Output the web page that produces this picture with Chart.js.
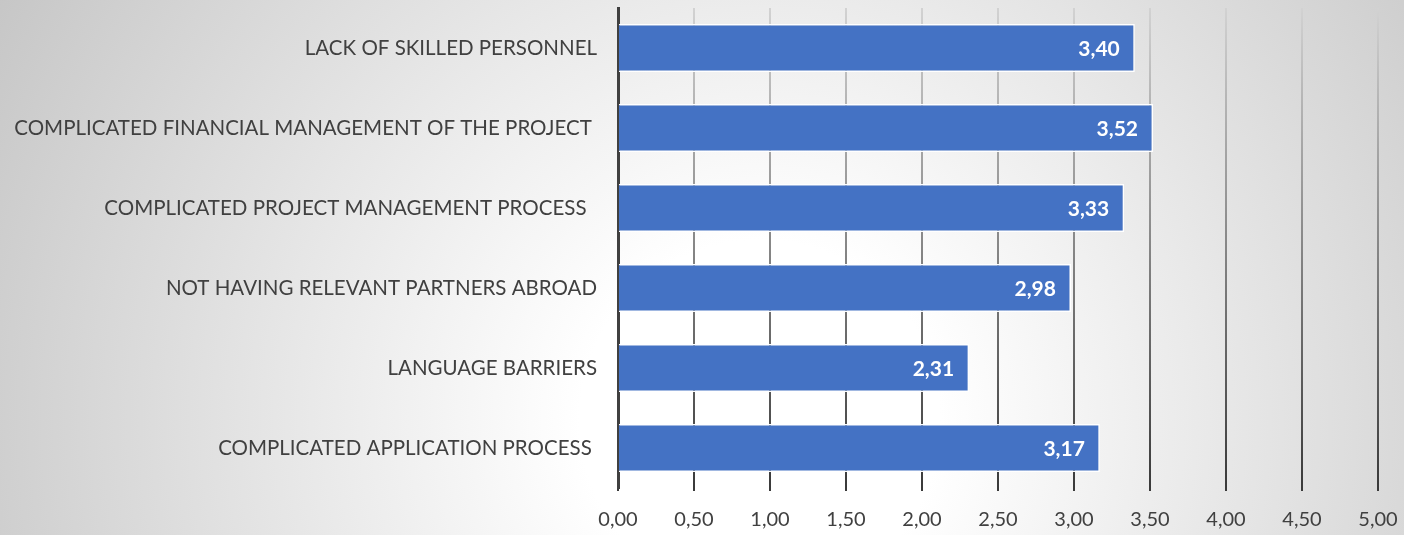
<!DOCTYPE html>
<html>
<head>
<meta charset="utf-8">
<script src="https://cdn.jsdelivr.net/npm/chart.js@4"></script>
<style>
  html, body { margin: 0; padding: 0; }
  #wrap { width: 1404px; height: 535px; }
</style>
</head>
<body>
<div id="wrap"><canvas id="barriersChart"></canvas></div>
<script>
// Data
let categories = [
    "LACK OF SKILLED PERSONNEL",
    "COMPLICATED FINANCIAL MANAGEMENT OF THE PROJECT ",
    "COMPLICATED PROJECT MANAGEMENT PROCESS  ",
    "NOT HAVING RELEVANT PARTNERS ABROAD",
    "LANGUAGE BARRIERS",
    "COMPLICATED APPLICATION PROCESS "
];
let scores = [3.40, 3.52, 3.33, 2.98, 2.31, 3.17];
let xMin = 0;
let xMax = 5;
let xStep = 0.5;

function comma(v) {
    return Number(v).toFixed(2).replace(".", ",");
}

// soft radial background like the original
const backgroundPlugin = {
    id: "bg",
    beforeDraw(chart) {
        let ctx = chart.ctx;
        let w = chart.width, h = chart.height;
        let g = ctx.createRadialGradient(760, 420, 0, 760, 420, 900);
        g.addColorStop(0, "#ffffff");
        g.addColorStop(0.2, "#ffffff");
        g.addColorStop(1, "#c4c4c4");
        ctx.save();
        ctx.fillStyle = g;
        ctx.fillRect(0, 0, w, h);
        ctx.restore();
    }
};

// white bold values at the end of each bar
const valueLabels = {
    id: "valueLabels",
    afterDatasetsDraw(chart) {
        let ctx = chart.ctx;
        let meta = chart.getDatasetMeta(0);
        ctx.save();
        ctx.font = "bold 21px Lato";
        ctx.fillStyle = "#ffffff";
        ctx.textAlign = "right";
        ctx.textBaseline = "middle";
        meta.data.forEach((bar, i) => {
            ctx.fillText(comma(scores[i]), bar.x - 15, bar.y + 1);
        });
        ctx.restore();
    }
};

let gridGradient = null;
function gridColor(context) {
    let chart = context.chart;
    let area = chart.chartArea;
    if (!area) return "#888888";
    if (!gridGradient) {
        gridGradient = chart.ctx.createLinearGradient(0, area.top, 0, area.bottom);
        gridGradient.addColorStop(0, "#d2d2d2");
        gridGradient.addColorStop(1, "#3a3a3a");
    }
    return gridGradient;
}

let ctxBarriers = document.getElementById("barriersChart").getContext("2d");
new Chart(ctxBarriers, {
    type: "bar",
    data: {
        labels: categories,
        datasets: [{
            data: scores,
            backgroundColor: "#4472C4",
            borderColor: "#ffffff",
            borderWidth: 1.5,
            borderSkipped: "start",
            barPercentage: 0.6,
            categoryPercentage: 1
        }]
    },
    options: {
        indexAxis: "y",
        responsive: true,
        maintainAspectRatio: false,
        animation: false,
        layout: { padding: { top: 8, right: 26, left: 0, bottom: 0 } },
        plugins: {
            legend: { display: false },
            tooltip: { enabled: false }
        },
        scales: {
            x: {
                min: xMin,
                max: xMax,
                ticks: {
                    stepSize: xStep,
                    color: "#404040",
                    font: { family: "Lato", size: 20 },
                    padding: 17,
                    callback: v => comma(v)
                },
                grid: {
                    color: gridColor,
                    lineWidth: 2,
                    tickLength: 3
                },
                border: { display: false },
                afterFit: scale => {
                    scale.height = 47;
                    scale.paddingLeft = 0;
                    scale.paddingRight = 0;
                }
            },
            y: {
                ticks: {
                    color: "#404040",
                    font: { family: "Lato", size: 20.5 },
                    padding: 21
                },
                grid: { display: false, drawTicks: false },
                border: { color: "#404040", width: 3 },
                afterFit: scale => {
                    scale.width = 618;
                    scale.paddingTop = 0;
                    scale.paddingBottom = 0;
                }
            }
        }
    },
    plugins: [backgroundPlugin, valueLabels]
});
</script>
</body>
</html>
